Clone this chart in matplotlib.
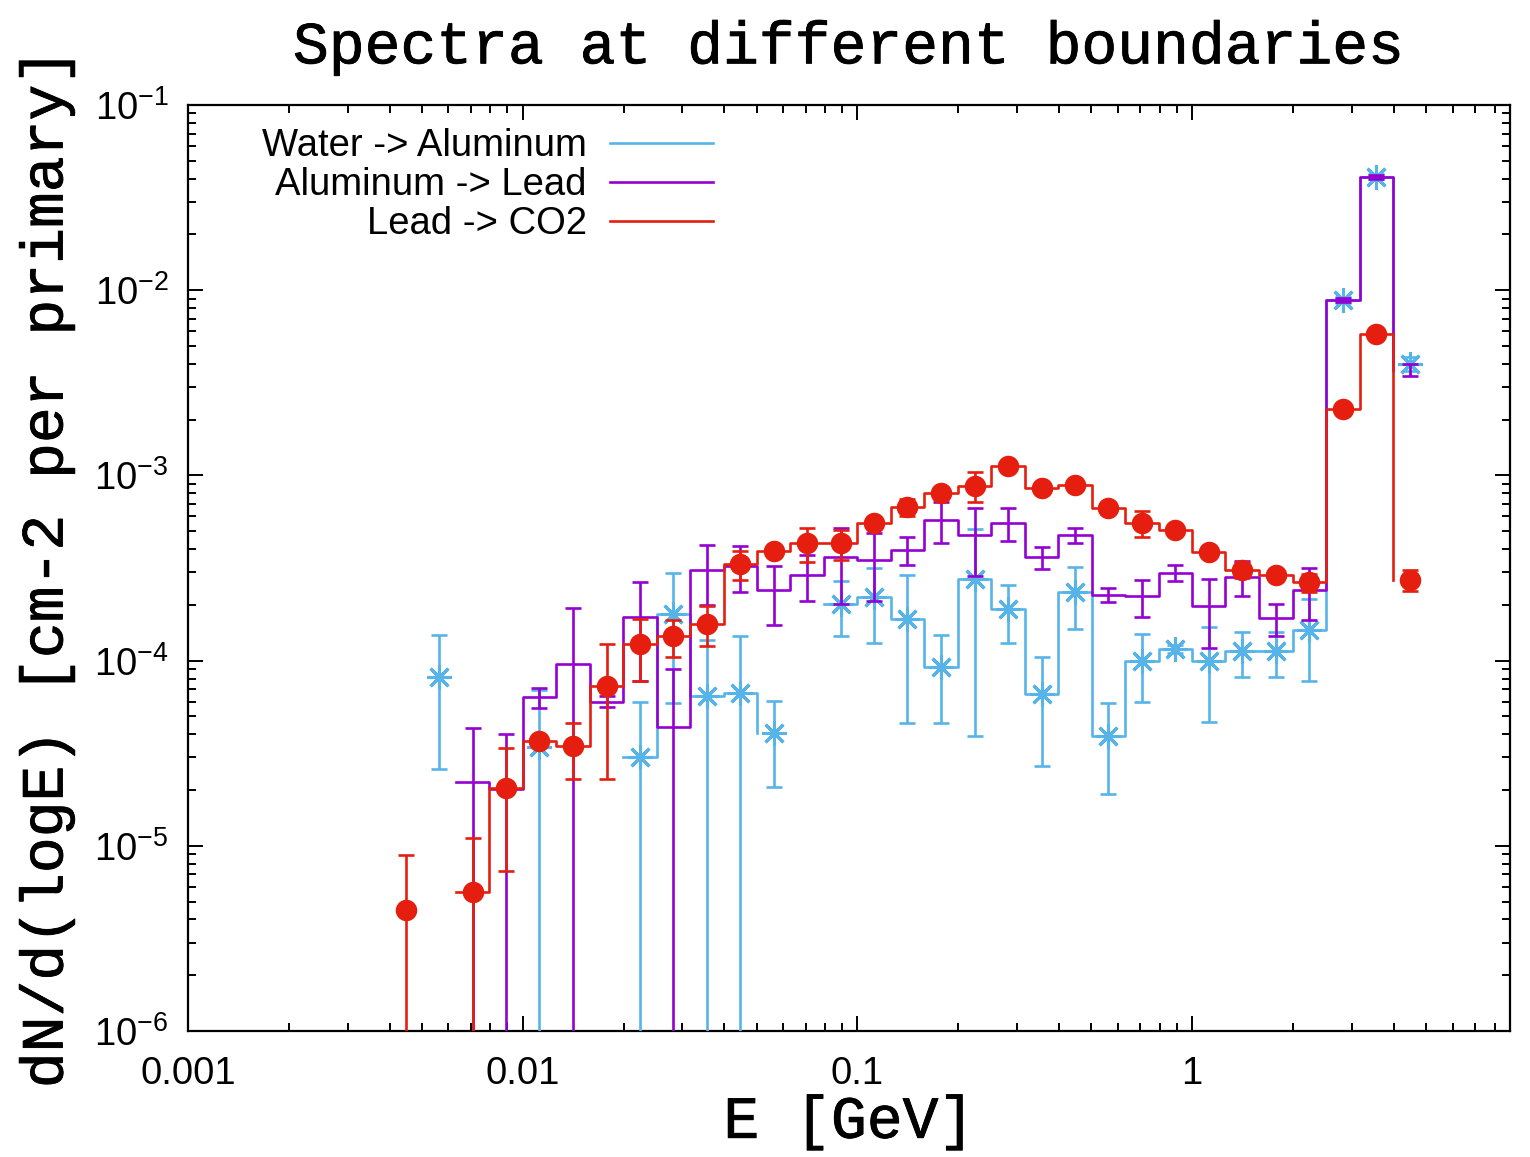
#!/usr/bin/env python3
"""Spectra at different boundaries: log-log step histograms with error bars."""

import numpy as np
import matplotlib

matplotlib.use("Agg")
import matplotlib.pyplot as plt
import matplotlib.patheffects as pe
from matplotlib.ticker import FixedLocator, FuncFormatter, LogLocator, NullFormatter

nan = np.nan

# bin centres [GeV]
energy = [0.00447, 0.00562, 0.00708, 0.00891, 0.0112, 0.0141, 0.0178, 0.0224,
          0.0282, 0.0355, 0.0447, 0.0562, 0.0708, 0.0891, 0.112, 0.141,
          0.178, 0.224, 0.282, 0.355, 0.447, 0.562, 0.708, 0.891,
          1.12, 1.41, 1.78, 2.24, 2.82, 3.55, 4.47]

water_al = [nan, 8.2e-5, nan, nan, 3.4e-5, nan, nan, 3.0e-5,
            1.79e-4, 6.4e-5, 6.7e-5, 4.07e-5, nan, 2.02e-4, 2.2e-4, 1.68e-4,
            9.2e-5, 2.75e-4, 1.9e-4, 6.6e-5, 2.34e-4, 3.9e-5, 9.96e-5, 1.16e-4,
            9.96e-5, 1.12e-4, 1.12e-4, 1.46e-4, 8.85e-3, 4.1e-2, 4.0e-3]
water_al_err = [nan, 5.6e-5, nan, nan, 3.5e-5, nan, nan, 2.95e-5,
                1.2e-4, 6.5e-5, 6.8e-5, 2.0e-5, nan, 6.7e-5, 9.5e-5, 1.22e-4,
                4.6e-5, 2.36e-4, 6.6e-5, 3.9e-5, 8.6e-5, 2.0e-5, 4.0e-5, 6e-6,
                5.3e-5, 3.0e-5, 3.0e-5, 6.8e-5, 3e-4, 1.2e-3, 3.4e-4]

al_lead = [nan, nan, 2.2e-5, 2.03e-5, 6.35e-5, 9.6e-5, 6.0e-5, 1.72e-4,
           4.4e-5, 3.1e-4, 3.24e-4, 2.4e-4, 2.9e-4, 3.63e-4, 3.49e-4, 3.95e-4,
           5.74e-4, 4.76e-4, 5.53e-4, 3.63e-4, 4.76e-4, 2.27e-4, 2.23e-4, 2.99e-4,
           1.97e-4, 2.83e-4, 1.69e-4, 2.4e-4, 8.85e-3, 4.09e-2, 3.73e-3]
al_lead_err = [nan, nan, 2.15e-5, 2.0e-5, 8e-6, 9.6e-5, 4e-6, 9.4e-5,
               4.6e-5, 1.1e-4, 9e-5, 8.5e-5, 8e-5, 1.6e-4, 1.4e-4, 6.8e-5,
               1.4e-4, 1.9e-4, 1.1e-4, 5e-5, 4.5e-5, 2e-5, 5e-5, 3e-5,
               8e-5, 6e-5, 3.3e-5, 7.5e-5, 2e-4, 1e-3, 2.7e-4]

lead_co2 = [4.5e-6, nan, 5.6e-6, 2.05e-5, 3.68e-5, 3.45e-5, 7.3e-5, 1.23e-4,
            1.35e-4, 1.58e-4, 3.33e-4, 3.9e-4, 4.3e-4, 4.3e-4, 5.53e-4, 6.75e-4,
            8.03e-4, 8.77e-4, 1.12e-3, 8.55e-4, 8.87e-4, 6.67e-4, 5.53e-4, 5.07e-4,
            3.84e-4, 3.1e-4, 2.9e-4, 2.65e-4, 2.28e-3, 5.8e-3, 2.74e-4]
lead_co2_err = [4.45e-6, nan, 5.4e-6, 1.32e-5, 2e-6, 1.15e-5, 5e-5, 4.5e-5,
                3e-5, 3.8e-5, 6e-5, 1.5e-5, 9e-5, 8e-5, 2e-5, 7e-5,
                3e-5, 1.6e-4, 3e-5, 2e-5, 4e-5, 2e-5, 9e-5, 2e-5,
                2e-5, 3e-5, 1e-5, 3e-5, 5e-5, 1e-4, 3.5e-5]

labels = ["Water -> Aluminum", "Aluminum -> Lead", "Lead -> CO2"]
colors = ["#56b4e9", "#9400d3", "#e51e10"]

SANS = ["Liberation Sans", "DejaVu Sans"]
MONO = ["Liberation Mono", "DejaVu Sans Mono"]


def lower_edges(x):
    x = np.asarray(x)
    e = np.sqrt(x[1:] * x[:-1])
    first = x[0] ** 1.5 / x[1] ** 0.5
    return np.concatenate([[first], e])


def runs(y):
    """Index ranges of consecutive defined values (length >= 2)."""
    ok = np.isfinite(y)
    out, start = [], None
    for i, v in enumerate(ok):
        if v and start is None:
            start = i
        if not v and start is not None:
            out.append((start, i))
            start = None
    if start is not None:
        out.append((start, len(y)))
    return [(a, b) for a, b in out if b - a >= 2]


def main():
    plt.rcParams["font.family"] = SANS
    plt.rcParams["mathtext.fontset"] = "custom"
    plt.rcParams["mathtext.rm"] = "Liberation Sans"
    plt.rcParams["mathtext.default"] = "regular"

    fig = plt.figure(figsize=(15.3, 11.57), dpi=100)
    ax = fig.add_axes([188 / 1530, 1 - 1031 / 1157, 1322 / 1530, 926 / 1157])
    ax.set_xscale("log")
    ax.set_yscale("log", nonpositive="clip")

    x = np.asarray(energy)
    edges = lower_edges(x)
    series = [
        (water_al, water_al_err, dict(marker=(8, 2, 0), ms=18, mew=2.2)),
        (al_lead, al_lead_err, dict(marker="none")),
        (lead_co2, lead_co2_err, dict(marker="o", ms=15.5, mew=0)),
    ]
    handles = []
    for k, (vals, errs, mk) in enumerate(series):
        y = np.asarray(vals, dtype=float)
        err = np.asarray(errs, dtype=float)
        c = colors[k]
        z = 2 + 2 * k
        line = None
        for a, b in runs(y):
            (line,) = ax.step(edges[a:b], y[a:b], where="post", color=c,
                              lw=1.9, zorder=z)
        handles.append(line)
        ax.errorbar(x, y, yerr=err, fmt="none", ecolor=c, elinewidth=1.9,
                    capsize=6, capthick=1.9, zorder=z + 1)
        if mk["marker"] != "none":
            ax.plot(x, y, ls="none", color=c, mec=c, zorder=z + 1.5, **mk)

    ax.set_xlim(0.001, 8.9)
    ax.set_ylim(1e-6, 1e-1)

    ax.xaxis.set_major_locator(FixedLocator([0.001, 0.01, 0.1, 1]))
    ax.xaxis.set_major_formatter(FuncFormatter(lambda v, p: f"{v:g}"))
    ax.xaxis.set_minor_locator(LogLocator(base=10, subs=np.arange(2, 10)))
    ax.xaxis.set_minor_formatter(NullFormatter())
    ax.yaxis.set_major_locator(LogLocator(base=10, numticks=10))
    ax.yaxis.set_major_formatter(
        FuncFormatter(lambda v, p: r"$10^{%d}$" % round(np.log10(v))))
    ax.yaxis.set_minor_locator(LogLocator(base=10, subs=np.arange(2, 10),
                                          numticks=20))
    ax.yaxis.set_minor_formatter(NullFormatter())

    ax.tick_params(which="both", direction="in", top=True, right=True,
                   width=1.4)
    ax.tick_params(which="major", length=11, labelsize=27.5)
    ax.tick_params(axis="x", which="major", pad=18)
    ax.tick_params(axis="y", which="major", pad=14)
    ax.tick_params(which="minor", length=6)
    for s in ax.spines.values():
        s.set_linewidth(1.6)

    heavy = [pe.withStroke(linewidth=0.6, foreground="black")]
    ax.set_title("Spectra at different boundaries", family=MONO,
                 fontsize=43, pad=30, path_effects=heavy)
    ax.set_xlabel("E [GeV]", family=MONO, fontsize=43, labelpad=2,
                  path_effects=heavy)
    ax.set_ylabel("dN/d(logE) [cm-2 per primary]", family=MONO, fontsize=43,
                  labelpad=14, path_effects=heavy)

    ax.legend(handles, labels, loc="upper right", bbox_to_anchor=(0.397, 0.975),
              frameon=False, markerfirst=False, fontsize=27.5,
              handlelength=2.7, handletextpad=0.6, labelspacing=0.08,
              borderpad=0, borderaxespad=0)

    fig.savefig("out.png", dpi=100)
    plt.close(fig)


if __name__ == "__main__":
    main()
